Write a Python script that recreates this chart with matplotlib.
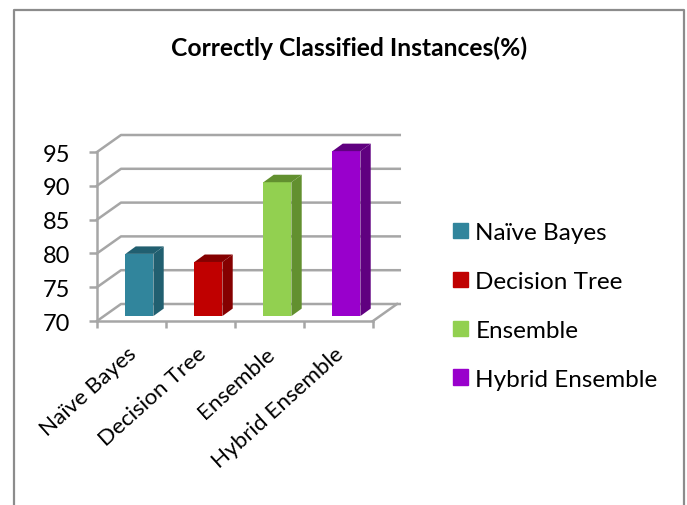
import matplotlib
matplotlib.use("Agg")
import matplotlib.pyplot as plt
from matplotlib.lines import Line2D
from matplotlib.patches import Patch, Polygon

categories = ["Naïve Bayes", "Decision Tree", "Ensemble", "Hybrid Ensemble"]
values = [79.2, 78.0, 89.8, 94.4]
y_ticks = [70, 75, 80, 85, 90, 95]

colors = ["#31859c", "#c00000", "#92d050", "#9900cc"]
dark = ["#215f70", "#850000", "#62902f", "#600080"]
grid = "#a6a6a6"

plt.rcParams["font.family"] = ["Lato", "DejaVu Sans"]

W, H = 687, 506
fig = plt.figure(figsize=(W / 100, H / 100), dpi=100)
ax = fig.add_axes([97 / W, (H - 322) / H, 276 / W, 169 / H])
ax.set_xlim(0, 4)
ax.set_ylim(70, 95)

# depth of the fake 3d box, in data units
dx = 24 / 69
dy = 17 / 6.76

# walls and floor
for t in y_ticks:
    ax.plot([0, dx, 4 + dx + 0.04], [t, t + dy, t + dy], color=grid, lw=1.8, clip_on=False, zorder=1)
ax.plot([4, 4 + dx], [70, 70 + dy], color=grid, lw=1.8, clip_on=False, zorder=1)

# bars sit part way into the depth, so base and top both shift up
bar_w = 0.405
shift = dy * 0.29
for i, v in enumerate(values):
    x0 = i + 0.5 + dx * 0.33 - bar_w / 2
    x1 = x0 + bar_w
    y0 = 70 + shift
    top = v + shift
    ddx = dx * 0.43
    ddy = dy * 0.44
    ax.bar(x0 + bar_w / 2, top - y0, width=bar_w, bottom=y0, color=colors[i], zorder=3, clip_on=False)
    ax.add_patch(Polygon([(x1, y0), (x1 + ddx, y0 + ddy), (x1 + ddx, top + ddy), (x1, top)],
                         color=dark[i], lw=0, zorder=3, clip_on=False))
    ax.add_patch(Polygon([(x0, top), (x0 + ddx, top + ddy), (x1 + ddx, top + ddy), (x1, top)],
                         color=dark[i], lw=0, zorder=3, clip_on=False))

# axes
for s in ["top", "right"]:
    ax.spines[s].set_visible(False)
for s in ["left", "bottom"]:
    ax.spines[s].set_color(grid)
    ax.spines[s].set_linewidth(1.8)
ax.set_yticks(y_ticks)
ax.set_yticklabels(y_ticks, fontsize=17)
ax.tick_params(axis="y", color=grid, width=1.8, length=6, pad=13)
ax.set_xticks([0, 1, 2, 3, 4])
ax.set_xticklabels([])
ax.tick_params(axis="x", color=grid, width=1.8, length=5)
ax.set_xticks([0.44, 1.44, 2.44, 3.44], minor=True)
ax.set_xticklabels(categories, minor=True, rotation=42, ha="right", va="top",
                   rotation_mode="anchor", fontsize=16.2)
ax.tick_params(axis="x", which="minor", length=0, pad=16)

# legend
handles = [Patch(color=c, label=n) for c, n in zip(colors, categories)]
fig.legend(handles=handles, loc="center left", bbox_to_anchor=(453 / W, 1 - 307 / H),
           frameon=False, fontsize=17.5, handlelength=0.62, handleheight=0.62,
           handletextpad=0.3, labelspacing=1.15, borderpad=0, borderaxespad=0)

fig.text(349 / W, 1 - 48 / H, "Correctly Classified Instances(%)", ha="center", va="center",
         fontsize=17.7, fontweight="bold")

# outer frame, open at the bottom
frame = "#8c8c8c"
fig.add_artist(Line2D([14 / W, 14 / W, 684 / W, 684 / W], [0, 1 - 11 / H, 1 - 11 / H, 0],
                      color=frame, lw=1.6, transform=fig.transFigure))

fig.savefig("out.png", dpi=100)
